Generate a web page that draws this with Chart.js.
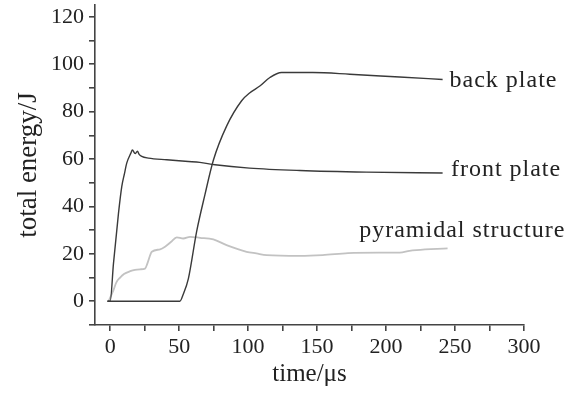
<!DOCTYPE html>
<html>
<head>
<meta charset="utf-8">
<script src="https://cdn.jsdelivr.net/npm/chart.js@4.4.0/dist/chart.umd.min.js"></script>
<style>
  html, body { margin: 0; padding: 0; background: #fff; }
</style>
</head>
<body>
<canvas id="energy" width="585" height="393"></canvas>
<script>
// values (time in us, energy in J)
var frontT = [-2, 0, 2.4, 6, 8.4, 10.4, 12, 15, 16.1, 18.1, 19.8, 21, 22.9, 27.7, 41, 56.7, 65, 76, 101, 137.5, 185.7, 241];
var frontE = [0, 0, 16, 37, 48.4, 54, 58.3, 62.5, 63.8, 62.3, 63.3, 62, 61.1, 60.4, 59.7, 59, 58.6, 57.6, 56.2, 55.2, 54.5, 54.1];

var backT = [-2, 50.5, 53, 56.7, 62.7, 68.7, 74.8, 84.4, 95.3, 101.3, 108.5, 115.8, 124.2, 147, 173.7, 209.8, 241];
var backE = [0, 0, 3, 9.6, 29.5, 45, 59.5, 73.9, 84.6, 88, 90.8, 94.4, 96.5, 96.5, 95.8, 94.6, 93.6];

var pyrT = [-1.2, 2.4, 4.5, 7.2, 10, 14.5, 18, 21.7, 25.3, 27, 30.2, 36.2, 39.8, 44, 48.3, 53, 57.9, 65.1, 74.8, 84.4, 98.9, 106, 113.4, 137.5, 154, 172.4, 195, 210, 217, 222, 244.6];
var pyrE = [0, 4.7, 8, 10, 11.5, 12.7, 13.3, 13.5, 13.8, 16, 20.9, 21.9, 23, 25, 27, 26.5, 27.2, 26.8, 26.1, 23.7, 20.9, 20.2, 19.5, 19.2, 19.5, 20.3, 20.5, 20.5, 21.3, 21.6, 22.3];

var xTicksShown = [0, 50, 100, 150, 200, 250, 300];
var yTicksShown = [0, 20, 40, 60, 80, 100, 120];

// text next to each curve, anchored in data units
var curveLabels = [
  { text: "back plate", t: 246, e: 90.5 },
  { text: "front plate", t: 247, e: 52.7 },
  { text: "pyramidal structure", t: 180.5, e: 27.1 }
];

function pairs(ts, es) {
  return ts.map(function (t, i) { return { x: t, y: es[i] }; });
}

var serif = '"Liberation Serif", "Times New Roman", serif';
var ink = "#222";

var labelPlugin = {
  id: "curveLabels",
  afterDatasetsDraw: function (chart) {
    var ctx = chart.ctx;
    var x = chart.scales.x, y = chart.scales.y;
    ctx.save();
    ctx.font = "24px " + serif;
    ctx.fillStyle = ink;
    ctx.textBaseline = "alphabetic";
    ctx.textAlign = "left";
    ctx.letterSpacing = "1px";
    curveLabels.forEach(function (l) {
      ctx.fillText(l.text, x.getPixelForValue(l.t), y.getPixelForValue(l.e));
    });
    ctx.restore();
  }
};

var axisLine = { display: true, color: "#444", width: 1.6 };
var axisGrid = { display: true, drawOnChartArea: false, drawTicks: true, tickLength: 6, color: "#444", lineWidth: 1.6 };

new Chart(document.getElementById("energy"), {
  type: "line",
  data: {
    datasets: [
      { label: "front plate", data: pairs(frontT, frontE), borderColor: "#3a3a3a", borderWidth: 1.4 },
      { label: "back plate", data: pairs(backT, backE), borderColor: "#3a3a3a", borderWidth: 1.4 },
      { label: "pyramidal structure", data: pairs(pyrT, pyrE), borderColor: "#c2c2c2", borderWidth: 1.8 }
    ]
  },
  options: {
    responsive: false,
    animation: false,
    devicePixelRatio: 1,
    layout: { padding: { left: 0, right: 61, top: 5, bottom: 0 } },
    elements: {
      point: { radius: 0 },
      line: { cubicInterpolationMode: "monotone", fill: false }
    },
    plugins: {
      legend: { display: false },
      tooltip: { enabled: false }
    },
    scales: {
      x: {
        type: "linear",
        min: -11,
        max: 300,
        border: axisLine,
        grid: axisGrid,
        ticks: {
          stepSize: 25,
          includeBounds: false,
          autoSkip: false,
          maxRotation: 0,
          padding: 3,
          color: ink,
          font: { family: serif, size: 22 },
          callback: function (v) { return xTicksShown.indexOf(v) >= 0 ? String(v) : ""; }
        },
        title: {
          display: true,
          text: "time/μs",
          color: ink,
          font: { family: serif, size: 25 },
          padding: { top: 0, bottom: 4 }
        },
        afterFit: function (s) {
          s.height = 68;
          s.paddingLeft = 0;
          s.paddingRight = 0;
        }
      },
      y: {
        type: "linear",
        min: -10,
        max: 125,
        border: axisLine,
        grid: axisGrid,
        ticks: {
          stepSize: 10,
          includeBounds: false,
          autoSkip: false,
          padding: 5,
          color: ink,
          font: { family: serif, size: 22 },
          callback: function (v) { return yTicksShown.indexOf(v) >= 0 ? String(v) : ""; }
        },
        title: {
          display: true,
          text: "total energy/J",
          color: ink,
          font: { family: serif, size: 27 },
          padding: { top: 13, bottom: 0 }
        },
        afterFit: function (s) {
          s.width = 95;
          s.paddingTop = 0;
          s.paddingBottom = 0;
        }
      }
    }
  },
  plugins: [labelPlugin]
});
</script>
</body>
</html>
